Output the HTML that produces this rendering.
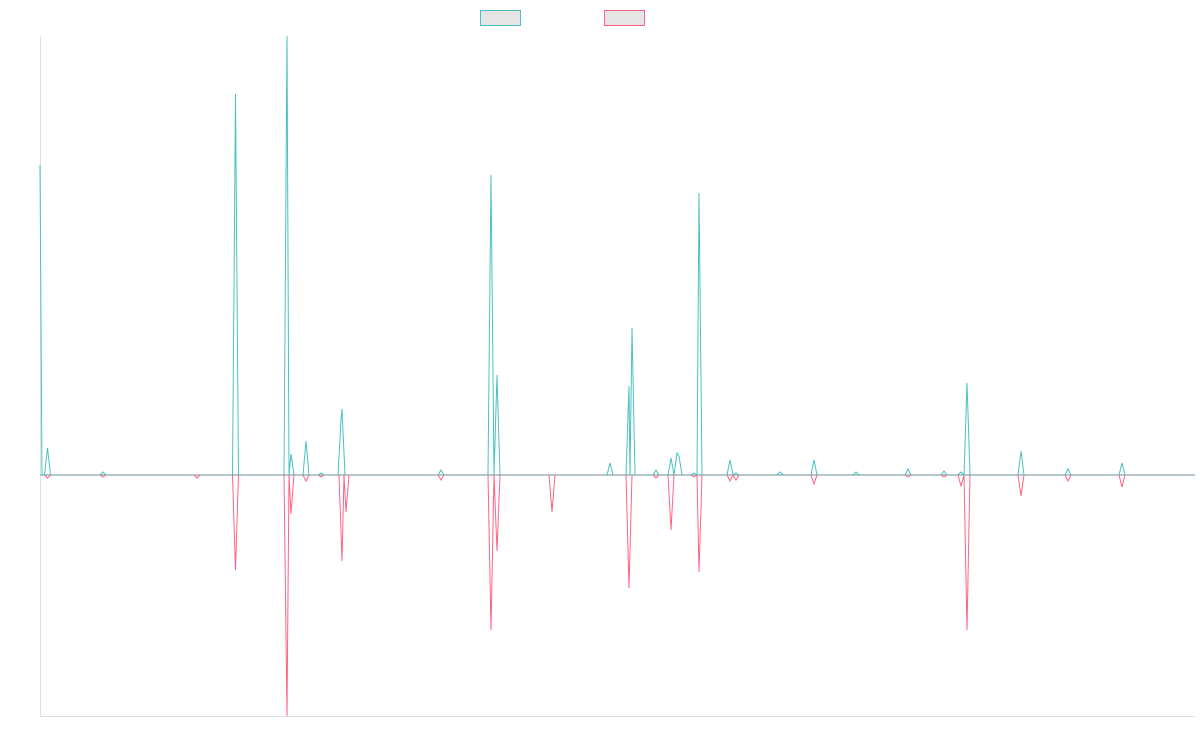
<!DOCTYPE html>
<html><head><style>html,body{margin:0;padding:0;background:#fff;width:1200px;height:750px;overflow:hidden}</style></head>
<body>
<svg width="1200" height="750" xmlns="http://www.w3.org/2000/svg">
<rect x="480.5" y="10.5" width="40" height="15" fill="#e5e5e5" stroke="#4bc0c0"/>
<rect x="604.5" y="10.5" width="40" height="15" fill="#e5e5e5" stroke="#ff6384"/>
<line x1="40.5" y1="36" x2="40.5" y2="716" stroke="#e0e0e0"/>
<line x1="40" y1="716.5" x2="1195" y2="716.5" stroke="#e0e0e0"/>
<line x1="40" y1="475" x2="1195" y2="475" stroke="#9fb4bb" stroke-width="1.6"/>
<g fill="none" stroke-width="1" stroke-linejoin="miter">
<path stroke="#ff6384" d="M44.5,475L47.5,478L50.5,475 M100,475L103,477L106,475 M194,475L197,478L200,475 M232.5,475L235.5,570L238.5,475 M284,475L287,716L289,475L291,514L294,475 M303,475L306,481L309,475 M318,475L321,477L324,475 M339,475L342,561L344,475L346,512L349,475 M438,475L441,480L444,475 M488,475L491,630L494,475L497,551L500,475 M549,475L552,512L555,475 M626,475L629,588L632,475 M653,475L656,478L659,475 M668,475L671,530L674,475 M691,475L694,477L697,475L699,572L702,475 M727,475L730,481L733,475L736,480L739,475 M811,475L814,484L817,475 M905,475L908,477L911,475 M941,475L944,477L947,475 M958,475L961,486L964,475L967,630L970,475 M1018,475L1021,496L1024,475 M1065,475L1068,481L1071,475 M1119,475L1122,487L1125,475"/>
<path stroke="#4bc0c0" d="M40,165L42,475L44.5,475L47.5,448L50.5,475 M100,475L103,472L106,475 M232.5,475L235.5,94L238.5,475 M284,475L287,36L289,475L291,454L294,475 M303,475L306,441L309,475 M318,475L321,473L324,475 M338,475L341,420L342,409L345,475 M438,475L441,470L444,475 M488,475L491,175L494,475L497,375L500,475 M607,475L610,463L613,475 M626,475L629,386L630,475L632,328L635,475 M653,475L656,470L659,475 M668,475L671,458L674,475L677,453L679,456L682,475 M691,475L694,473L697,475L699,193L702,475 M727,475L730,460L733,475L736,473L739,475 M777,475L780,472L783,475 M811,475L814,460L817,475 M853,475L856,472L859,475 M905,475L908,469L911,475 M941,475L944,471L947,475 M958,475L961,472L964,475L967,383L970,475 M1018,475L1021,451L1024,475 M1065,475L1068,469L1071,475 M1119,475L1122,463L1125,475"/>
</g>
</svg>
</body></html>
